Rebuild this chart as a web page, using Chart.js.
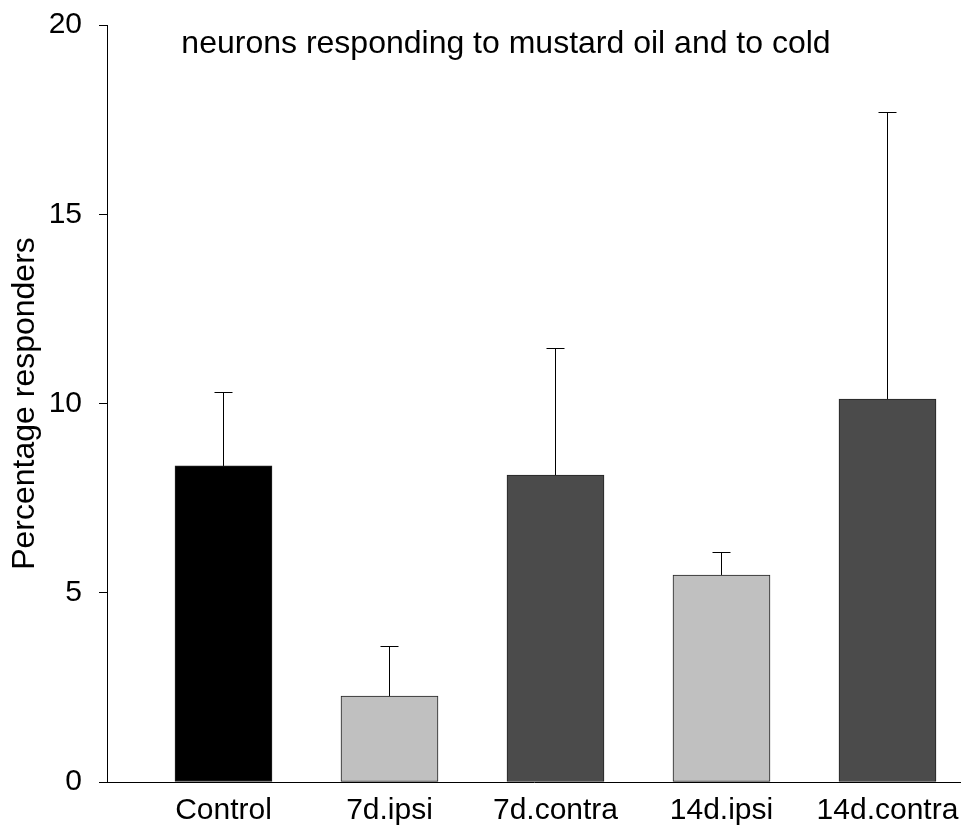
<!DOCTYPE html>
<html lang="en">
<head>
<meta charset="utf-8">
<script src="https://cdn.jsdelivr.net/npm/chart.js@4.4.1/dist/chart.umd.min.js"></script>
<style>
    body {margin:0; background:#fff}
    .reportGraph {width:961px; height:829px}
</style>
</head>
<body>

<div class="reportGraph"><canvas id="canvas"></canvas></div>

<script type="text/javascript">
'use strict';

// values
var categories = ["Control", "7d.ipsi", "7d.contra", "14d.ipsi", "14d.contra"];
var means = [8.35, 2.27, 8.11, 5.47, 10.12];
var errors = [1.95, 1.32, 3.36, 0.61, 7.58];
var barColors = ["#000000", "#c0c0c0", "#4b4b4b", "#c0c0c0", "#4b4b4b"];
var yTicks = [0, 5, 10, 15, 20];
var titleText = "neurons responding to mustard oil and to cold";
var FONT = "'Liberation Sans', Arial, sans-serif";

var points = categories.map(function (c, i) {
    return {x: i + 1, y: means[i]};
});

// upper error bars, drawn from the scales
var errorBars = {
    id: 'errorBars',
    afterDatasetsDraw: function (chart) {
        var ctx = chart.ctx, xs = chart.scales.x, ys = chart.scales.y;
        ctx.save();
        ctx.strokeStyle = '#000';
        ctx.lineWidth = 1;
        means.forEach(function (m, i) {
            var px = Math.round(xs.getPixelForValue(i + 1)) + 0.5;
            var top = Math.round(ys.getPixelForValue(m + errors[i])) + 0.5;
            var base = ys.getPixelForValue(m);
            ctx.beginPath();
            ctx.moveTo(px, base);
            ctx.lineTo(px, top);
            ctx.moveTo(px - 9, top);
            ctx.lineTo(px + 9, top);
            ctx.stroke();
        });
        ctx.restore();
    },
    afterDraw: function (chart) {
        var ctx = chart.ctx;
        ctx.save();
        ctx.fillStyle = '#000';
        ctx.font = "32px " + FONT;
        ctx.textAlign = 'center';
        ctx.textBaseline = 'alphabetic';
        ctx.fillText(titleText, 506, 53);
        ctx.restore();
    }
};

function drawGraphs() {
    new Chart(document.getElementById("canvas"), {
        type: "bar",
        data: {
            datasets: [{
                data: points,
                backgroundColor: barColors,
                borderColor: "#222",
                borderWidth: 1,
                borderSkipped: false,
                barThickness: 97
            }]
        },
        options: {
            responsive: true,
            maintainAspectRatio: false,
            animation: false,
            layout: {padding: {top: 25, left: 0, right: 0, bottom: 0}},
            plugins: {legend: {display: false}, tooltip: {enabled: false}},
            scales: {
                x: {
                    type: "linear",
                    offset: false,
                    min: 0.2982,
                    max: 5.4428,
                    grid: {display: false},
                    border: {display: true, color: "#000", width: 1},
                    afterBuildTicks: function (axis) {
                        axis.ticks = categories.map(function (c, i) { return {value: i + 1}; });
                    },
                    afterFit: function (axis) {
                        axis.height = 47;
                        axis.paddingLeft = 0;
                        axis.paddingRight = 0;
                    },
                    ticks: {
                        autoSkip: false,
                        maxRotation: 0,
                        padding: 3,
                        color: "#000",
                        font: {family: FONT, size: 30},
                        callback: function (v) { return categories[v - 1]; }
                    }
                },
                y: {
                    min: 0,
                    max: 20,
                    afterBuildTicks: function (axis) {
                        axis.ticks = yTicks.map(function (v) { return {value: v}; });
                    },
                    afterFit: function (axis) {
                        axis.width = 107;
                        axis.paddingTop = 0;
                        axis.paddingBottom = 0;
                    },
                    grid: {drawOnChartArea: false, drawTicks: true, tickLength: 8, color: "#000"},
                    border: {display: true, color: "#000", width: 1},
                    ticks: {
                        padding: 17,
                        color: "#000",
                        font: {family: FONT, size: 30}
                    },
                    title: {
                        display: true,
                        text: "Percentage responders",
                        color: "#000",
                        font: {family: FONT, size: 32},
                        padding: {top: 6, bottom: 0}
                    }
                }
            }
        },
        plugins: [errorBars]
    });
}
window.onload = function () {
    drawGraphs();
};
</script>
</body>
</html>
